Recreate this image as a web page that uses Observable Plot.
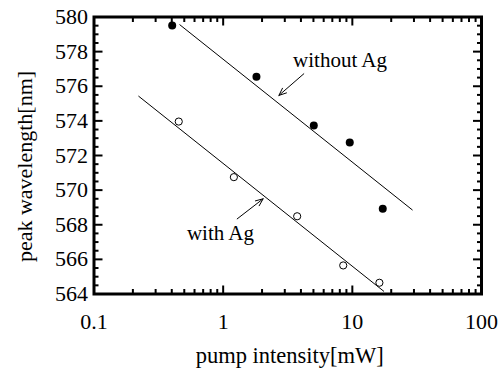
<!DOCTYPE html>
<html>
<head>
<meta charset="utf-8">
<script src="https://cdn.jsdelivr.net/npm/d3@7"></script>
<script src="https://cdn.jsdelivr.net/npm/@observablehq/plot@0.6"></script>
<style>
  html, body { margin: 0; padding: 0; background: #fff; }
  svg, svg text, svg g { font-family: "Liberation Serif", "Times New Roman", serif !important; font-variant: normal !important; }
</style>
</head>
<body>
<div id="chart"></div>
<script>
// Data
const withoutAgX = [0.403, 1.81, 5.03, 9.55, 17.2];
const withoutAgY = [579.51, 576.55, 573.73, 572.75, 568.92];
const withAgX = [0.453, 1.21, 3.74, 8.50, 16.2];
const withAgY = [573.96, 570.75, 568.49, 565.65, 564.65];

// fitted lines (end points)
const fitWithoutX = [0.462, 29.1];
const fitWithoutY = [579.55, 568.86];
const fitWithX = [0.222, 17.5];
const fitWithY = [575.42, 564.16];

// annotations
const labelNames = ["without Ag", "with Ag"];
const labelX = [8.03, 0.953];
const labelY = [577.49, 567.48];
const arrowFromX = [4.21, 1.284];
const arrowFromY = [576.72, 568.34];
const arrowToX = [2.70, 2.04];
const arrowToY = [575.47, 569.5];

// ticks
const xMajor = [0.1, 1, 10, 100];
const xMinor = [0.2,0.3,0.4,0.5,0.6,0.7,0.8,0.9,2,3,4,5,6,7,8,9,20,30,40,50,60,70,80,90];
const yMajor = [564, 566, 568, 570, 572, 574, 576, 578, 580];
const yMinor = [564.5,565,565.5,566.5,567,567.5,568.5,569,569.5,570.5,571,571.5,572.5,573,573.5,574.5,575,575.5,576.5,577,577.5,578.5,579,579.5];

const xTitle = "pump intensity[mW]";
const yTitle = "peak wavelength[nm]";

const pts = (xs, ys) => xs.map((x, i) => ({x, y: ys[i]}));
const filled = pts(withoutAgX, withoutAgY);
const open = pts(withAgX, withAgY);
const fitA = pts(fitWithoutX, fitWithoutY);
const fitB = pts(fitWithX, fitWithY);
const labels = labelNames.map((t, i) => ({t, x: labelX[i], y: labelY[i]}));
const arrows = arrowFromX.map((x, i) => ({x1: x, y1: arrowFromY[i], x2: arrowToX[i], y2: arrowToY[i]}));

const serif = "Liberation Serif";
const fs = 22;
const tickStyle = {stroke: "black", strokeWidth: 2, tickFormat: () => "", label: null};
const textStyle = {fill: "black", fontFamily: serif, fontSize: fs};

const chart = Plot.plot({
  width: 500,
  height: 369,
  marginLeft: 93.5,
  marginRight: 19,
  marginTop: 16.5,
  marginBottom: 75.5,
  style: {fontFamily: serif, fontSize: fs + "px", color: "black", background: "white"},
  x: {type: "log", domain: [0.1, 100], label: null},
  y: {domain: [564, 580], label: null},
  marks: [
    // tick labels
    Plot.axisX(xMajor, {anchor: "bottom", tickSize: 0, tickPadding: 19, tickFormat: d => String(d), label: null, ...textStyle}),
    Plot.axisY(yMajor, {anchor: "left", tickSize: 0, tickPadding: 6, tickFormat: d => String(d), label: null, ...textStyle}),
    // inward ticks
    Plot.axisX(xMajor, {anchor: "bottom", tickSize: -8, ...tickStyle}),
    Plot.axisX(xMinor, {anchor: "bottom", tickSize: -4.5, ...tickStyle}),
    Plot.axisX(xMajor, {anchor: "top", tickSize: -8, ...tickStyle}),
    Plot.axisX(xMinor, {anchor: "top", tickSize: -4.5, ...tickStyle}),
    Plot.axisY(yMajor, {anchor: "left", tickSize: -9, ...tickStyle}),
    Plot.axisY(yMinor, {anchor: "left", tickSize: -5, ...tickStyle}),
    Plot.axisY(yMajor, {anchor: "right", tickSize: -9, ...tickStyle}),
    Plot.axisY(yMinor, {anchor: "right", tickSize: -5, ...tickStyle}),
    Plot.frame({stroke: "black", strokeWidth: 3}),
    // fit lines
    Plot.line(fitA, {x: "x", y: "y", stroke: "black", strokeWidth: 1}),
    Plot.line(fitB, {x: "x", y: "y", stroke: "black", strokeWidth: 1}),
    // data
    Plot.dot(filled, {x: "x", y: "y", r: 4, fill: "black", stroke: "none"}),
    Plot.dot(open, {x: "x", y: "y", r: 3.6, fill: "white", stroke: "black", strokeWidth: 1}),
    // annotations
    Plot.arrow(arrows, {x1: "x1", y1: "y1", x2: "x2", y2: "y2", stroke: "black", strokeWidth: 1, headLength: 12, headAngle: 45}),
    Plot.text(labels, {x: "x", y: "y", text: "t", ...textStyle, fontSize: 21}),
    // axis titles
    Plot.text([xTitle], {text: d => d, frameAnchor: "bottom", dy: 62, dx: 2, lineAnchor: "middle", textAnchor: "middle", ...textStyle, fontSize: 22.5}),
    Plot.text([yTitle], {text: d => d, frameAnchor: "left", dx: -69, dy: 11, rotate: -90, lineAnchor: "middle", textAnchor: "middle", ...textStyle})
  ]
});
document.getElementById("chart").appendChild(chart);
</script>
</body>
</html>
